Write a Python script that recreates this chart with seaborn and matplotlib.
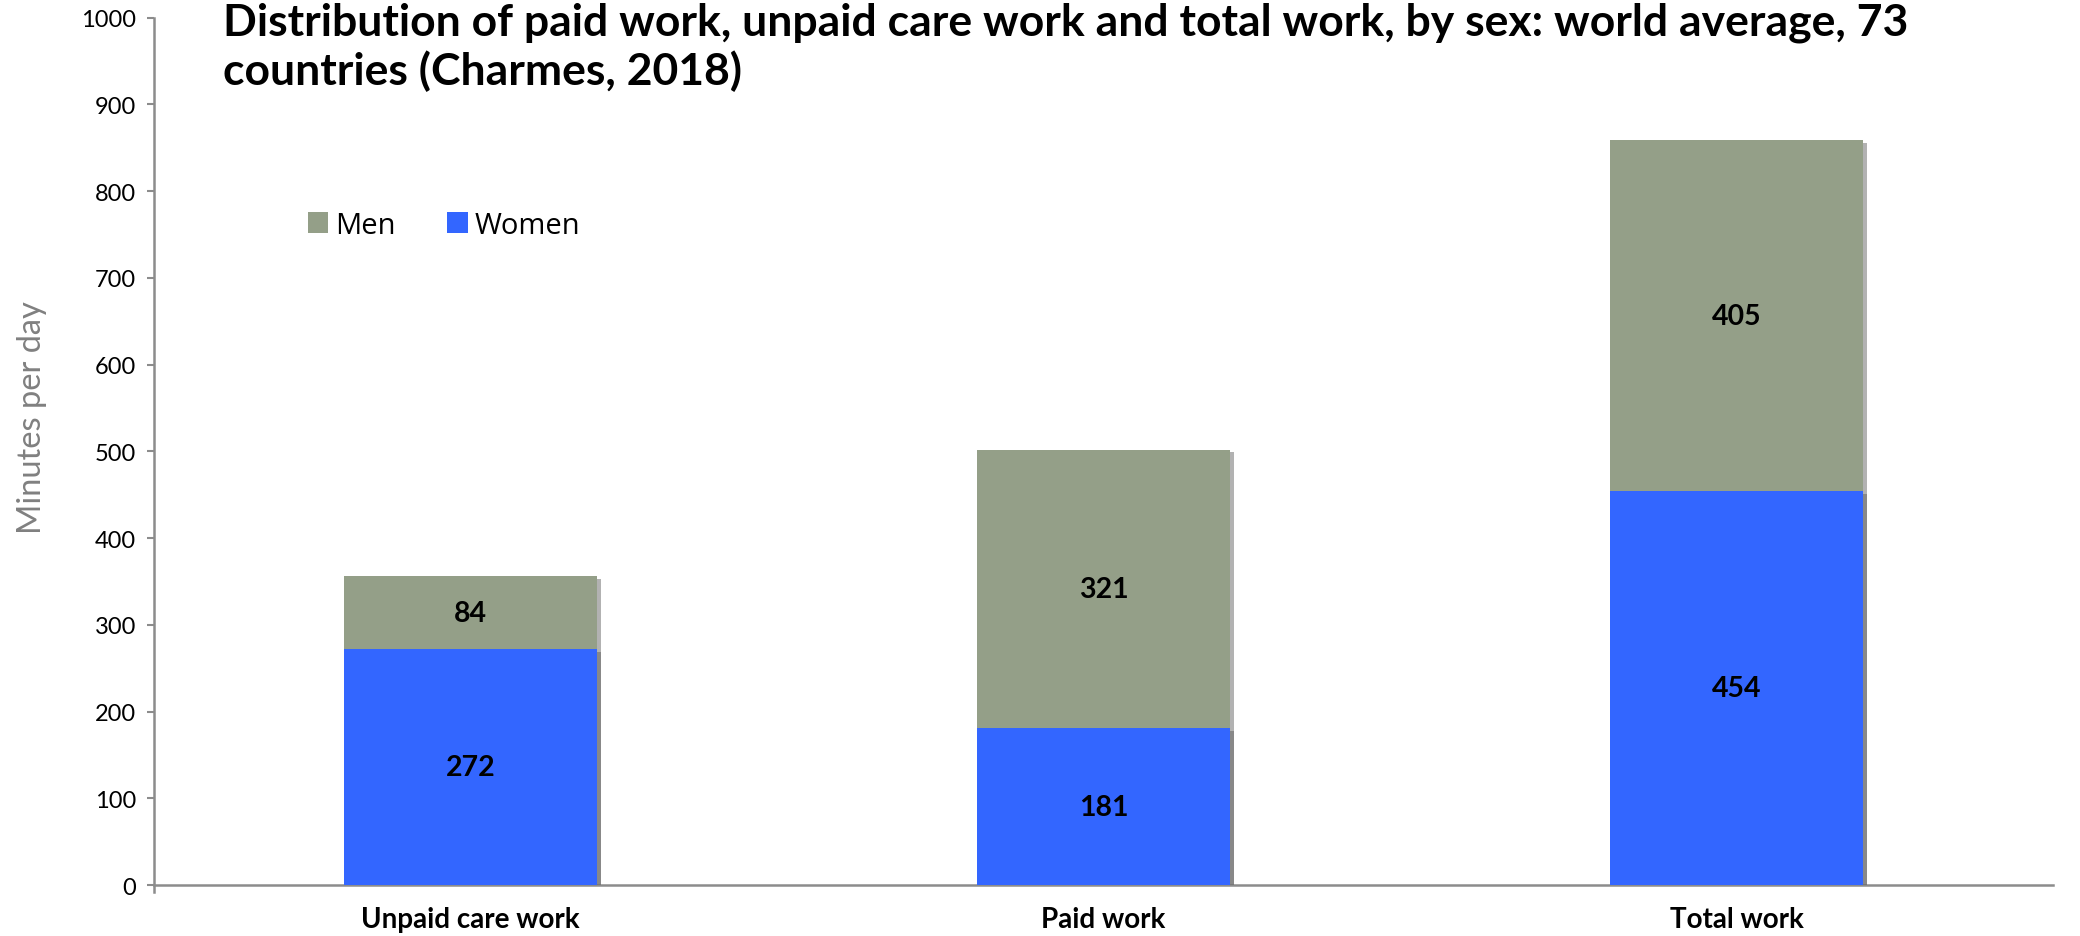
import matplotlib
matplotlib.use("Agg")
import matplotlib.pyplot as plt
import matplotlib.patheffects as pe
from matplotlib.patches import Patch
import seaborn as sns
import pandas as pd

# data (minutes per day)
categories = ["Unpaid care work", "Paid work", "Total work"]
women = [272, 181, 454]
men = [84, 321, 405]
y_ticks = list(range(0, 1001, 100))

men_color = "#949f88"
women_color = "#3366ff"
axis_color = "#8c8c8c"

sns.set_style("white")
plt.rcParams["font.family"] = ["Lato", "DejaVu Sans"]
plt.rcParams["text.color"] = "black"

df = pd.DataFrame({"category": categories, "women": women, "men": men})
df["total"] = df["women"] + df["men"]

fig = plt.figure(figsize=(20.8, 9.37), dpi=100)
ax = fig.add_axes([0.074, 0.0544, 0.913, 0.9256])

# stacked bars: total drawn in men colour, women drawn over the bottom part
sns.barplot(data=df, x="category", y="total", color=men_color, saturation=1,
            width=0.4, ax=ax, zorder=2)
sns.barplot(data=df, x="category", y="women", color=women_color, saturation=1,
            width=0.4, ax=ax, zorder=3)

shadow = [pe.SimplePatchShadow(offset=(3, -2), shadow_rgbFace="#555555", alpha=0.45),
          pe.Normal()]
for p in ax.patches:
    p.set_path_effects(shadow)
    p.set_linewidth(0)

# value labels in the middle of each segment
for i, row in df.iterrows():
    ax.text(i, row["women"] / 2, f"{row['women']}", ha="center", va="center",
            fontsize=20.5, fontweight="bold", color="black", zorder=5)
    ax.text(i, row["women"] + row["men"] / 2, f"{row['men']}", ha="center",
            va="center", fontsize=20.5, fontweight="bold", color="black", zorder=5)

ax.set_ylim(0, 1000)
ax.set_xlim(-0.5, len(categories) - 0.5)
ax.set_yticks(y_ticks)
ax.set_yticklabels([str(t) for t in y_ticks], fontsize=17)
ax.set_xticks(range(len(categories)))
ax.set_xticklabels(categories, fontsize=20, fontweight="bold")
ax.set_xticks([-0.5, 0.5, 1.5, 2.5], minor=True)
ax.tick_params(axis="x", which="major", length=0, pad=15, labelcolor="black")
ax.tick_params(axis="x", which="minor", length=6, width=1.5, color=axis_color,
               direction="out")
ax.tick_params(axis="y", length=5, width=1.5, color=axis_color, direction="out",
               pad=8, left=True, labelcolor="black")
ax.set_xlabel("")
ax.set_ylabel("")

for side in ["top", "right"]:
    ax.spines[side].set_visible(False)
for side in ["left", "bottom"]:
    ax.spines[side].set_color(axis_color)
    ax.spines[side].set_linewidth(1.8)
ax.spines["left"].set_bounds(-8, 1000)

fig.text(0.0155, 1 - 418 / 937, "Minutes per day", rotation=90, ha="center",
         va="center", fontsize=23.5, color="#808080")

fig.text(0.107, 1 - 85 / 937,
         "Distribution of paid work, unpaid care work and total work, by sex: world average, 73\n"
         "countries (Charmes, 2018)",
         ha="left", va="baseline", fontsize=32, fontweight="bold", linespacing=1.2,
         color="black")

handles = [Patch(facecolor=men_color, edgecolor="none"),
           Patch(facecolor=women_color, edgecolor="none")]
ax.legend(handles, ["Men", "Women"], loc="center left",
          bbox_to_anchor=(0.148, 1 - 226 / 937), bbox_transform=fig.transFigure,
          ncol=2, frameon=False, borderpad=0, borderaxespad=0,
          handlelength=0.7, handleheight=0.7, handletextpad=0.25,
          columnspacing=1.75, prop={"family": "Open Sans", "size": 21})

fig.savefig("out.png", dpi=100)
